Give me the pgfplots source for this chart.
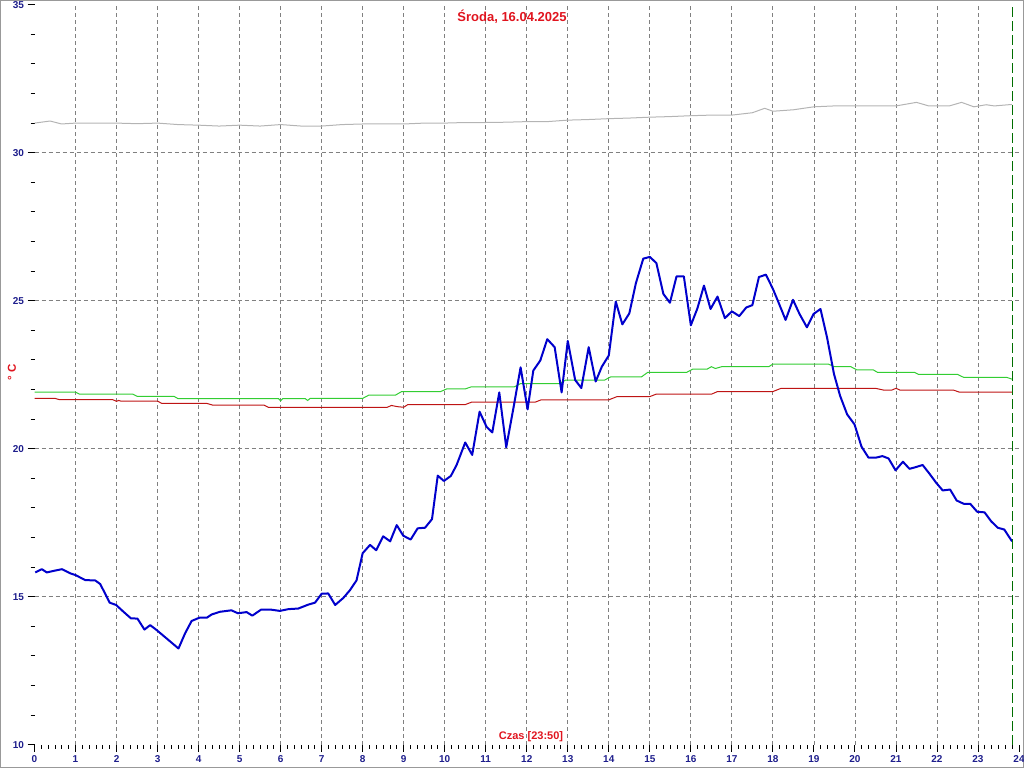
\documentclass[border=0pt]{standalone}
\usepackage{fontspec}
\setmainfont{Liberation Sans}
\usepackage{pgfplots}
\pgfplotsset{compat=1.18}

\definecolor{titlered}{RGB}{224,20,30}
\definecolor{ticknavy}{RGB}{30,30,140}
\definecolor{tempblue}{RGB}{0,0,204}
\definecolor{linegreen}{RGB}{50,205,50}
\definecolor{linered}{RGB}{190,20,20}
\definecolor{linegray}{RGB}{180,180,180}
\definecolor{nowgreen}{RGB}{0,110,0}

\begin{document}
\begin{tikzpicture}[x=1pt,y=1pt]
  \path[use as bounding box] (0,0) rectangle (1024,768);
  \draw[gray!80, line width=1pt] (0.5,0.5) rectangle (1023.5,767.5);

  \begin{axis}[
    at={(34.5pt,23.3pt)}, anchor=south west,
    scale only axis,
    width=984.5pt, height=740pt,
    xmin=0, xmax=24, ymin=10, ymax=35,
    axis x line*=bottom, axis y line*=left,
    axis line style={draw=none},
    xtick={0,...,24}, ytick={10,15,...,35},
    minor x tick num=5, minor y tick num=4,
    tick align=outside,
    major tick length=7pt, minor tick length=4pt,
    tick style={black, line width=0.9pt},
    ticklabel style={font=\bfseries\fontsize{10}{11}\selectfont, text=ticknavy},
    /pgf/number format/assume math mode=true,
    % grid only inside the box
    extra x ticks={1,...,23}, extra x tick labels={},
    extra y ticks={15,20,25,30}, extra y tick labels={},
    extra tick style={grid=major, major tick length=0pt},
    grid style={dash pattern=on 4pt off 3pt, color=gray, line width=0.8pt},
  ]

    % gray
    \addplot[linegray, line width=1pt] coordinates {
      (0,31.0) (0.38,31.07) (0.66,30.97) (1,31.0) (1.5,31.0) (2,31.0) (2.5,30.98)
      (3,31.0) (3.5,30.95) (4,30.93) (4.5,30.9) (5,30.93) (5.5,30.9) (6,30.95)
      (6.5,30.9) (7,30.9) (7.5,30.95) (8,30.97) (8.5,30.97) (9,30.97) (9.5,31.0)
      (10,31.0) (10.5,31.02) (11,31.02) (11.5,31.03) (12,31.05) (12.5,31.05)
      (13,31.1) (13.5,31.12) (14,31.15) (14.5,31.17) (15,31.2) (15.5,31.22)
      (16,31.25) (16.5,31.27) (17,31.27) (17.5,31.35) (17.8,31.5) (18,31.4)
      (18.5,31.45) (19,31.55) (19.5,31.58) (20,31.58) (21,31.58) (21.5,31.7)
      (21.8,31.58) (22.3,31.58) (22.6,31.7) (22.9,31.55) (23.2,31.62)
      (23.4,31.58) (23.83,31.63)
    };

    % green
    \addplot[linegreen, line width=1pt] coordinates {
      (0,21.91) (1.0,21.91) (1.1,21.84) (2.4,21.84) (2.5,21.77) (3.4,21.77)
      (3.5,21.69) (5.95,21.69) (6.0,21.62) (6.05,21.69) (6.6,21.69) (6.66,21.63)
      (6.72,21.70) (8.0,21.70) (8.15,21.81) (8.8,21.81) (8.95,21.93) (9.9,21.93)
      (10.05,22.02) (10.5,22.02) (10.65,22.09) (11.7,22.09) (11.85,22.20)
      (12.8,22.20) (12.95,22.32) (13.9,22.32) (14.05,22.43) (14.8,22.43)
      (14.95,22.58) (15.9,22.58) (16.05,22.69) (16.4,22.69) (16.5,22.77)
      (16.6,22.71) (16.75,22.77) (17.9,22.77) (18.0,22.86) (19.35,22.86)
      (19.5,22.77) (19.9,22.77) (20.05,22.66) (20.45,22.66) (20.55,22.58)
      (21.45,22.58) (21.55,22.51) (22.5,22.51) (22.65,22.41) (23.7,22.41)
      (23.83,22.35)
    };

    % red
    \addplot[linered, line width=1pt] coordinates {
      (0,21.70) (0.5,21.70) (0.6,21.66) (1.9,21.66) (2.0,21.60) (2.05,21.63)
      (2.1,21.61) (3.0,21.61) (3.1,21.53) (4.2,21.53) (4.35,21.47) (5.6,21.47)
      (5.7,21.40) (8.6,21.40) (8.7,21.46) (8.85,21.42) (9.0,21.40) (9.1,21.49)
      (10.5,21.49) (10.65,21.57) (12.2,21.57) (12.35,21.65) (14.0,21.65)
      (14.2,21.76) (15.0,21.76) (15.15,21.84) (16.5,21.84) (16.65,21.93)
      (18.0,21.93) (18.2,22.04) (20.5,22.04) (20.7,21.98) (20.9,21.98)
      (21.0,22.04) (21.1,21.98) (22.4,21.98) (22.55,21.91) (23.83,21.91)
    };

    % blue
    \addplot[tempblue, line width=2pt, line join=round] coordinates {
      (0.02,15.82) (0.18,15.93) (0.30,15.82) (0.46,15.87) (0.67,15.93)
      (0.87,15.79) (1.00,15.73) (1.24,15.56) (1.48,15.55) (1.60,15.43)
      (1.72,15.11) (1.83,14.80) (1.99,14.72) (2.17,14.49) (2.35,14.27)
      (2.51,14.26) (2.68,13.89) (2.82,14.04) (2.98,13.87) (3.22,13.59)
      (3.51,13.25) (3.67,13.76) (3.83,14.18) (4.02,14.29) (4.20,14.29)
      (4.32,14.40) (4.52,14.49) (4.80,14.54) (4.96,14.44) (5.17,14.48)
      (5.31,14.36) (5.52,14.56) (5.78,14.56) (5.98,14.52) (6.19,14.58)
      (6.43,14.60) (6.67,14.73) (6.84,14.80) (7.00,15.10) (7.16,15.11)
      (7.33,14.72) (7.53,14.96) (7.69,15.22) (7.85,15.55) (8.00,16.47)
      (8.18,16.75) (8.33,16.57) (8.50,17.04) (8.67,16.87) (8.83,17.42)
      (8.99,17.06) (9.17,16.93) (9.34,17.31) (9.52,17.33) (9.69,17.62)
      (9.83,19.09) (9.98,18.91) (10.15,19.08) (10.29,19.45) (10.50,20.21)
      (10.67,19.79) (10.85,21.25) (11.02,20.74) (11.16,20.55) (11.33,21.90)
      (11.50,20.05) (11.68,21.41) (11.85,22.75) (12.02,21.33) (12.16,22.64)
      (12.33,22.98) (12.50,23.70) (12.68,23.43) (12.85,21.90) (13.00,23.64)
      (13.18,22.32) (13.33,22.05) (13.51,23.43) (13.68,22.27) (13.83,22.77)
      (14.00,23.15) (14.17,24.97) (14.33,24.20) (14.50,24.57) (14.66,25.59)
      (14.84,26.42) (15.00,26.48) (15.16,26.27) (15.33,25.23) (15.49,24.93)
      (15.65,25.82) (15.83,25.82) (16.00,24.17) (16.16,24.74) (16.32,25.51)
      (16.48,24.72) (16.65,25.14) (16.83,24.41) (17.00,24.64) (17.18,24.48)
      (17.35,24.77) (17.50,24.85) (17.66,25.80) (17.83,25.88) (18.00,25.40)
      (18.12,25.00) (18.31,24.35) (18.49,25.03) (18.65,24.55) (18.83,24.10)
      (18.99,24.55) (19.16,24.72) (19.32,23.76) (19.49,22.52) (19.64,21.78)
      (19.81,21.16) (19.99,20.82) (20.16,20.07) (20.33,19.70) (20.52,19.70)
      (20.67,19.75) (20.82,19.67) (20.99,19.27) (21.17,19.56) (21.33,19.32)
      (21.49,19.38) (21.65,19.45) (21.82,19.15) (21.98,18.85) (22.14,18.59)
      (22.32,18.62) (22.48,18.25) (22.65,18.14) (22.81,18.14) (22.98,17.87)
      (23.16,17.85) (23.32,17.55) (23.48,17.33) (23.64,17.27) (23.83,16.87)
    };

    % current time 23:50
    \draw[nowgreen, line width=1.2pt, dash pattern=on 10pt off 4pt]
      (axis cs:23.833,10) -- (axis cs:23.833,35);
  \end{axis}

  \node[text=titlered, font=\bfseries\fontsize{13}{15}\selectfont] at (512,751) {Środa, 16.04.2025};
  \node[text=titlered, font=\bfseries\fontsize{11}{13}\selectfont] at (531,31) {Czas [23:50]};
  \node[text=titlered, font=\bfseries\fontsize{11.5}{13}\selectfont, rotate=90] at (12,396) {° C};
\end{tikzpicture}
\end{document}
